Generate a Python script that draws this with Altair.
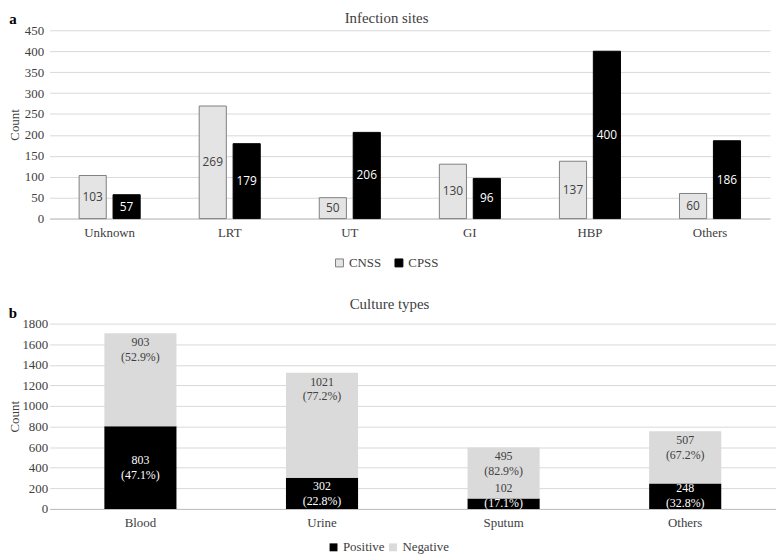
import altair as alt
import pandas as pd

# ---------------- data ----------------
sites = ["Unknown", "LRT", "UT", "GI", "HBP", "Others"]
cnss = [103, 269, 50, 130, 137, 60]
cpss = [57, 179, 206, 96, 400, 186]
site_groups = ["CNSS", "CPSS"]

cultures = ["Blood", "Urine", "Sputum", "Others"]
positive = [803, 302, 102, 248]
negative = [903, 1021, 495, 507]
pos_pct = ["47.1%", "22.8%", "17.1%", "32.8%"]
neg_pct = ["52.9%", "77.2%", "82.9%", "67.2%"]
status = ["Positive", "Negative"]

SERIF = "Liberation Serif"
SANS = "Open Sans"
TXT = "#404040"
GRID = "#d9d9d9"

# ---------------- panel a ----------------
df_a = pd.DataFrame({
    "site": sites * 2,
    "group": [site_groups[0]] * len(sites) + [site_groups[1]] * len(sites),
    "count": cnss + cpss,
})

W_A, H_A = 727, 190
xa = alt.X("site:N", sort=sites,
           scale=alt.Scale(paddingInner=0, paddingOuter=0),
           axis=alt.Axis(title=None, labelAngle=0, labelPadding=8, ticks=False,
                         domain=True, domainColor="#bfbfbf", grid=False,
                         labelFont=SERIF, labelFontSize=13, labelColor=TXT))
xoa = alt.XOffset("group:N", sort=site_groups,
                  scale=alt.Scale(paddingInner=0.2, paddingOuter=0.87))
ya_scale = alt.Scale(domain=[0, 450])
ya_axis = alt.Axis(title="Count", values=list(range(0, 451, 50)), grid=True,
                   labelOverlap=False, format="d",
                   gridColor=GRID, domain=False, ticks=False, labelPadding=6,
                   minExtent=28, maxExtent=28, titlePadding=0,
                   labelFont=SERIF, labelFontSize=13, labelColor=TXT,
                   titleFont=SERIF, titleFontSize=13, titleFontWeight="normal",
                   titleColor=TXT)

base_a = alt.Chart(df_a)
bars_a = base_a.mark_bar(strokeWidth=1).encode(
    x=xa, xOffset=xoa,
    y=alt.Y("count:Q", scale=ya_scale, axis=ya_axis),
    fill=alt.Fill("group:N", sort=site_groups,
                  scale=alt.Scale(domain=site_groups, range=["#e4e4e4", "#000000"]),
                  legend=alt.Legend(title=None, orient="none", direction="horizontal",
                                    legendX=286, legendY=228, symbolType="square",
                                    symbolSize=64, symbolStrokeColor="#595959",
                                    symbolStrokeWidth=1, labelFont=SERIF,
                                    labelFontSize=13, labelColor=TXT, labelOffset=3,
                                    columnPadding=11, padding=0)),
    stroke=alt.Stroke("group:N", sort=site_groups,
                      scale=alt.Scale(domain=site_groups, range=["#7f7f7f", "#000000"]),
                      legend=None),
)
labels_a = base_a.transform_calculate(mid="datum.count / 2").mark_text(
    font=SANS, fontSize=12, baseline="middle", align="center"
).encode(
    x=xa, xOffset=xoa,
    y=alt.Y("mid:Q", scale=ya_scale, axis=ya_axis),
    text=alt.Text("count:Q"),
    color=alt.Color("group:N", scale=alt.Scale(domain=site_groups, range=[TXT, "#ffffff"]),
                    legend=None),
)
title_a = alt.Chart(pd.DataFrame({"t": ["Infection sites"]})).mark_text(
    font=SERIF, fontSize=15, color=TXT, baseline="middle", align="center"
).encode(x=alt.value(340), y=alt.value(-12.5), text="t:N")
tag_a = alt.Chart(pd.DataFrame({"t": ["a"]})).mark_text(
    font=SERIF, fontSize=15, fontWeight="bold", color="#000000", baseline="middle"
).encode(x=alt.value(-37), y=alt.value(-11), text="t:N")

chart_a = alt.layer(bars_a, labels_a, title_a, tag_a).properties(width=W_A, height=H_A)

# ---------------- panel b ----------------
rows = []
for i, c in enumerate(cultures):
    rows.append({"culture": c, "status": "Positive", "count": positive[i], "ord": 0})
    rows.append({"culture": c, "status": "Negative", "count": negative[i], "ord": 1})
df_b = pd.DataFrame(rows)

df_lab = pd.DataFrame({
    "culture": cultures,
    "pos": positive,
    "neg": negative,
    "pos_pct": pos_pct,
    "neg_pct": neg_pct,
})

W_B, H_B = 733, 187
xb = alt.X("culture:N", sort=cultures,
           scale=alt.Scale(paddingInner=0.603, paddingOuter=0.3015),
           axis=alt.Axis(title=None, labelAngle=0, labelPadding=8, ticks=False,
                         domain=True, domainColor="#bfbfbf", grid=False,
                         labelFont=SERIF, labelFontSize=13, labelColor=TXT))
yb_scale = alt.Scale(domain=[0, 1800])
yb_axis = alt.Axis(title="Count", values=list(range(0, 1801, 200)), grid=True,
                   labelOverlap=False, format="d",
                   gridColor=GRID, domain=False, ticks=False, labelPadding=2,
                   minExtent=28, maxExtent=28, titlePadding=0,
                   labelFont=SERIF, labelFontSize=13, labelColor=TXT,
                   titleFont=SERIF, titleFontSize=13, titleFontWeight="normal",
                   titleColor=TXT)

bars_b = alt.Chart(df_b).mark_bar().encode(
    x=xb,
    y=alt.Y("count:Q", stack="zero", scale=yb_scale, axis=yb_axis),
    order=alt.Order("ord:Q"),
    fill=alt.Fill("status:N", sort=status,
                  scale=alt.Scale(domain=status, range=["#000000", "#dadada"]),
                  legend=alt.Legend(title=None, orient="none", direction="horizontal",
                                    legendX=280, legendY=219, symbolType="square",
                                    symbolSize=64, labelFont=SERIF,
                                    labelFontSize=13, labelColor=TXT, labelOffset=3,
                                    columnPadding=2, padding=0)),
)

base_lab = alt.Chart(df_lab).transform_calculate(
    top="datum.pos + datum.neg",
    mid="max(datum.pos / 2, 130)",
    neg_text="datum.neg + '\\n(' + datum.neg_pct + ')'",
    pos_line2="'(' + datum.pos_pct + ')'",
    small="datum.pos < 150 ? 1 : 0",
)
neg_lab = base_lab.mark_text(
    font=SERIF, fontSize=12, baseline="top", align="center", dy=4,
    lineBreak="\n", lineHeight=15, color=TXT
).encode(x=xb, y=alt.Y("top:Q", scale=yb_scale, axis=yb_axis), text="neg_text:N")
pos_lab1 = base_lab.mark_text(
    font=SERIF, fontSize=12, baseline="middle", align="center", dy=-7.5
).encode(
    x=xb, y=alt.Y("mid:Q", scale=yb_scale, axis=yb_axis), text="pos:Q",
    color=alt.condition("datum.small == 1", alt.value(TXT), alt.value("#ffffff")),
)
pos_lab2 = base_lab.mark_text(
    font=SERIF, fontSize=12, baseline="middle", align="center", dy=7.5,
    color="#ffffff"
).encode(x=xb, y=alt.Y("mid:Q", scale=yb_scale, axis=yb_axis), text="pos_line2:N")

title_b = alt.Chart(pd.DataFrame({"t": ["Culture types"]})).mark_text(
    font=SERIF, fontSize=15, color=TXT, baseline="middle", align="center"
).encode(x=alt.value(343), y=alt.value(-20), text="t:N")
tag_b = alt.Chart(pd.DataFrame({"t": ["b"]})).mark_text(
    font=SERIF, fontSize=15, fontWeight="bold", color="#000000", baseline="middle"
).encode(x=alt.value(-37), y=alt.value(-11), text="t:N")

chart_b = alt.layer(bars_b, neg_lab, pos_lab1, pos_lab2, title_b, tag_b).properties(
    width=W_B, height=H_B)

chart = alt.vconcat(chart_a, chart_b, spacing=27).resolve_scale(
    fill="independent", color="independent", stroke="independent"
).resolve_legend(
    fill="independent", color="independent", stroke="independent"
).properties(padding=0).configure_view(stroke=None)

chart.save("out.html", embed_options={"renderer": "svg", "actions": False})
